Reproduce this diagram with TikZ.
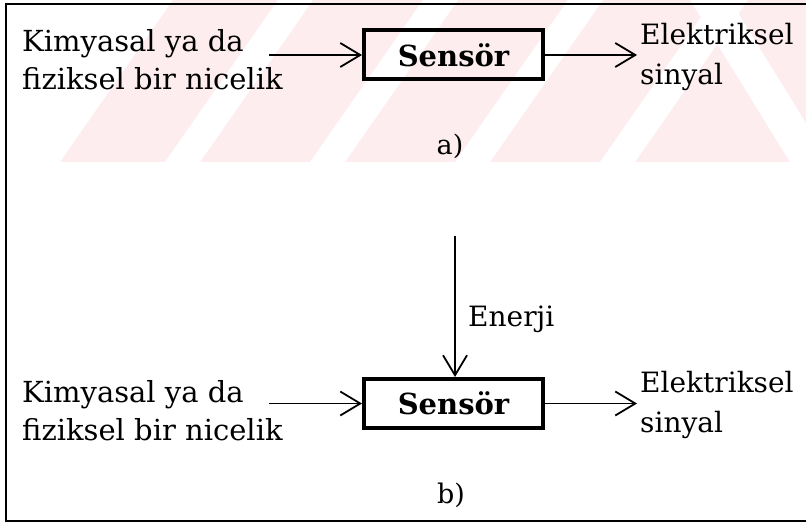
\documentclass[tikz,border=0pt]{standalone}
\usepackage{fontspec}
\setmainfont{DejaVu Serif}
\usetikzlibrary{arrows.meta}
\definecolor{wm}{HTML}{FDEDEF}
\tikzset{
  sensorbox/.style={draw=black, line width=4pt, minimum width=179pt, minimum height=49pt, inner sep=0pt, font={\fontsize{29}{32}\selectfont\bfseries}},
  lefttext/.style={anchor=base west, align=left, inner sep=0pt, font={\fontsize{29}{38}\selectfont}},
  righttext/.style={anchor=base west, align=left, inner sep=0pt, font={\fontsize{28}{40}\selectfont}},
  smalltext/.style={anchor=base west, inner sep=0pt, font={\fontsize{28}{32}\selectfont}},
  captext/.style={anchor=base, inner sep=0pt, font={\fontsize{27}{32}\selectfont}},
  arr/.style={line width=1.8pt, -{Straight Barb[length=20pt,width=24pt,line width=1.8pt]}},
  frame/.style={line width=1.5pt}
}
\begin{document}
\begin{tikzpicture}[x=1pt,y=-1pt]
\useasboundingbox (0,0) rectangle (806,524);
% faint watermark
\begin{scope}
  \clip (60,162) -- (173,0) -- (806,0) -- (806,162) -- cycle;
  \fill[wm] (0,0) rectangle (806,162);
  \foreach \g in {165,310,455,600}{
    \fill[white] (\g,162) -- (\g+35,162) -- (\g+35+113,0) -- (\g+113,0) -- cycle;
  }
  \fill[white] (690,0) -- (730,0) -- (830,162) -- (790,162) -- cycle;
\end{scope}
% frame
\draw[frame] (806,4) -- (6,4) -- (6,521) -- (806,521);
% a)
\node[sensorbox] (s1) at (453.5,55) {Sensör};
\node[lefttext] (in1) at (22,90) {Kimyasal ya da\\fiziksel bir nicelik};
\node[righttext] (out1) at (640,85) {Elektriksel\\sinyal};
\node[captext] (cap1) at (450,155) {a)};
\coordinate (i1) at (269,55);
\coordinate (o1) at (637,55);
\draw[arr] (i1) -- (s1.west);
\draw[arr] (s1.east) -- (o1);
% b)
\node[sensorbox] (s2) at (453.5,403.5) {Sensör};
\node[lefttext] (in2) at (22,440) {Kimyasal ya da\\fiziksel bir nicelik};
\node[righttext] (out2) at (640,432) {Elektriksel\\sinyal};
\node[smalltext] (en) at (468,326) {Enerji};
\node[captext] (cap2) at (451,503) {b)};
\coordinate (i2) at (269,403.5);
\coordinate (o2) at (637,403.5);
\coordinate (e0) at (455,236);
\draw[arr] (i2) -- (s2.west);
\draw[arr] (s2.east) -- (o2);
\draw[arr] (e0) -- (e0 |- s2.north);
\end{tikzpicture}
\end{document}
